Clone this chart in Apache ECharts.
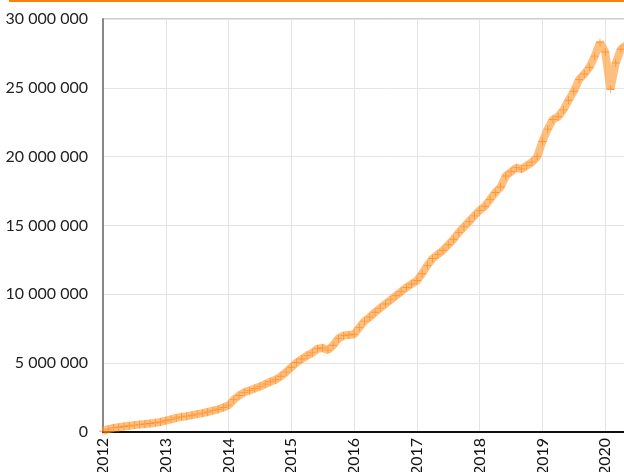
<div id="chart" style="width: 700px; height: 472px;"></div>
<style>body { margin: 0; overflow: hidden; }</style>
<script src="https://cdn.jsdelivr.net/npm/echarts@6/dist/echarts.min.js"></script>
<script>
const chart = echarts.init(document.getElementById('chart'));

// monthly values, millions, starting Jan 2012
const startYear = 2012;
const values = [
  0.05, 0.2, 0.3, 0.35, 0.4, 0.45, 0.5, 0.55, 0.58, 0.62, 0.67, 0.73,
  0.82, 0.92, 1.02, 1.1, 1.15, 1.22, 1.3, 1.37, 1.45, 1.55, 1.65, 1.78,
  1.95, 2.35, 2.65, 2.88, 3.02, 3.16, 3.3, 3.48, 3.65, 3.8, 4.05, 4.35,
  4.7, 5.05, 5.3, 5.55, 5.75, 6.05, 6.1, 5.95, 6.3, 6.8, 7.0, 7.05,
  7.1, 7.6, 8.05, 8.35, 8.7, 9.0, 9.3, 9.6, 9.9, 10.2, 10.5, 10.75,
  11.0, 11.5, 12.1, 12.6, 12.9, 13.2, 13.6, 14.0, 14.5, 14.9, 15.3, 15.7,
  16.1, 16.4, 16.9, 17.4, 17.8, 18.6, 18.9, 19.2, 19.1, 19.35, 19.6, 20.0,
  21.1, 22.0, 22.7, 22.9, 23.4, 24.1, 24.75, 25.6, 26.0, 26.5, 27.3, 28.3,
  27.6, 24.9, 26.8, 27.8, 28.1
];
const yearTicks = [2012, 2013, 2014, 2015, 2016, 2017, 2018, 2019, 2020, 2021];

const points = values.map((v, i) => [startYear + i / 12, v * 1e6]);

const font = 'Lato, "DejaVu Sans", sans-serif';

const option = {
  animation: false,
  graphic: [
    { type: 'rect', left: 9, top: 0, shape: { width: 700, height: 2 }, style: { fill: '#f5820b' } }
  ],
  grid: {
    left: 103, right: 32, top: 19, bottom: 40,
    outerBoundsMode: 'none',
    containLabel: false,
    show: true, borderColor: '#9a9a9a', borderWidth: 1
  },
  xAxis: {
    type: 'value',
    min: yearTicks[0],
    max: yearTicks[yearTicks.length - 1],
    interval: 1,
    axisLine: { lineStyle: { color: '#111', width: 2 } },
    axisTick: { show: false },
    splitLine: { lineStyle: { color: '#e4e4e4' } },
    axisLabel: {
      rotate: 90, margin: 6, color: '#111', fontSize: 16, fontFamily: font,
      formatter: v => String(v)
    }
  },
  yAxis: {
    type: 'value',
    min: 0, max: 30000000, interval: 5000000,
    axisLine: { show: true, lineStyle: { color: '#888', width: 2 } },
    axisTick: { show: false },
    splitLine: { lineStyle: { color: '#e4e4e4' } },
    axisLabel: {
      margin: 15, color: '#222', fontSize: 16, fontFamily: font,
      formatter: v => String(v).replace(/\B(?=(\d{3})+(?!\d))/g, ' ')
    }
  },
  series: [{
    type: 'line',
    data: points,
    smooth: false,
    lineStyle: { color: '#ff9a30', width: 8, opacity: 0.62 },
    symbol: 'path://M4,0h1v9h-1zM0,4h9v1h-9z',
    symbolSize: 8,
    itemStyle: { color: 'rgba(255,120,0,0.6)' }
  }]
};

chart.setOption(option);
</script>
